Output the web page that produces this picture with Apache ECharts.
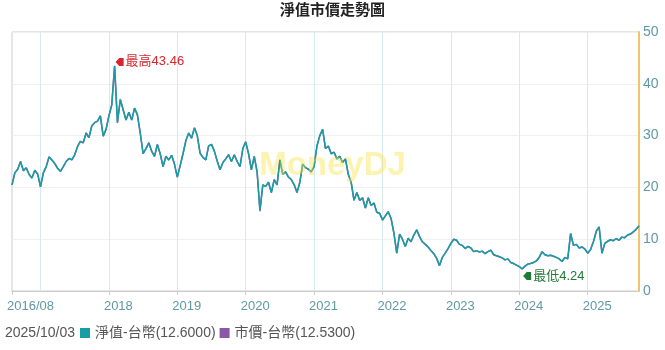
<!DOCTYPE html>
<html><head><meta charset="utf-8">
<script src="https://cdn.jsdelivr.net/npm/echarts@6/dist/echarts.min.js"></script>
<style>html,body{margin:0;padding:0;background:#fff}#c{width:665px;height:350px}</style>
</head><body><div id="c"></div>
<script>
// 淨值 (NAV), semi-monthly readings from 2016/08/01 to 2025/10/03
const navValues = [
20.5,22.8,23.5,25.0,23.2,23.8,22.5,21.8,23.3,22.6,20.1,
22.8,24.0,25.9,25.3,24.6,23.7,23.1,24.0,25.0,25.6,25.3,26.3,27.9,28.9,28.6,30.5,29.6,31.9,32.5,32.8,33.8,29.9,31.2,33.8,
35.9,43.46,32.5,37.0,35.0,33.0,34.5,33.0,35.3,34.0,30.5,26.5,27.5,28.6,27.0,26.0,28.3,26.5,24.0,26.0,25.3,26.2,24.5,22.0,
24.2,26.5,29.0,30.5,29.5,31.5,30.0,26.6,25.8,25.3,28.0,28.3,27.0,25.1,23.4,24.8,25.5,26.3,25.0,26.3,25.0,24.0,27.5,28.8,
26.5,23.4,26.0,23.0,15.6,20.5,20.2,21.0,19.0,21.5,20.5,25.3,22.5,23.0,22.0,21.5,20.5,19.0,21.0,24.5,23.8,23.5,23.0,24.0,
28.0,30.0,31.2,27.5,28.0,26.5,26.8,25.5,26.0,24.8,25.5,22.5,21.0,17.5,19.0,17.5,18.0,16.0,18.0,16.5,17.0,15.2,15.0,13.7,
14.5,15.3,14.0,11.2,7.3,11.0,10.0,8.6,10.2,9.5,10.8,11.8,10.5,9.5,9.0,8.5,7.8,7.2,6.3,4.9,6.5,7.3,8.2,9.2,
10.0,9.8,9.0,8.8,8.2,8.6,8.3,7.6,7.8,7.5,7.7,7.2,7.6,7.9,7.0,6.8,6.6,6.4,6.0,6.2,5.5,5.3,5.0,4.7,
4.24,4.8,5.2,5.3,5.5,5.8,6.5,7.6,7.0,6.8,6.9,6.7,6.5,6.2,5.7,6.5,6.2,11.1,8.8,9.0,8.3,8.5,8.1,7.3,
8.0,9.5,11.5,12.4,7.3,9.2,9.6,9.9,9.7,10.1,9.8,10.4,10.3,10.8,11.0,11.4,11.9,12.6
];
// 市價 (market price) – read as overlapping the NAV line
const priceValues = [
20.5,22.8,23.5,25.0,23.2,23.8,22.5,21.8,23.3,22.6,20.1,
22.8,24.0,25.9,25.3,24.6,23.7,23.1,24.0,25.0,25.6,25.3,26.3,27.9,28.9,28.6,30.5,29.6,31.9,32.5,32.8,33.8,29.9,31.2,33.8,
35.9,43.4,32.5,37.0,35.0,33.0,34.5,33.0,35.3,34.0,30.5,26.5,27.5,28.6,27.0,26.0,28.3,26.5,24.0,26.0,25.3,26.2,24.5,22.0,
24.2,26.5,29.0,30.5,29.5,31.5,30.0,26.6,25.8,25.3,28.0,28.3,27.0,25.1,23.4,24.8,25.5,26.3,25.0,26.3,25.0,24.0,27.5,28.8,
26.5,23.4,26.0,23.0,15.4,20.5,20.2,21.0,19.0,21.5,20.5,25.3,22.5,23.0,22.0,21.5,20.5,19.0,21.0,24.5,23.8,23.5,23.0,24.0,
28.0,30.0,31.2,27.5,28.0,26.5,26.8,25.5,26.0,24.8,25.5,22.5,21.0,17.5,19.0,17.5,18.0,16.0,18.0,16.5,17.0,15.2,15.0,13.7,
14.5,15.3,14.0,11.2,7.3,11.0,10.0,8.6,10.2,9.5,10.8,11.8,10.5,9.5,9.0,8.5,7.8,7.2,6.3,4.9,6.5,7.3,8.2,9.2,
10.0,9.8,9.0,8.8,8.2,8.6,8.3,7.6,7.8,7.5,7.7,7.2,7.6,7.9,7.0,6.8,6.6,6.4,6.0,6.2,5.5,5.3,5.0,4.7,
4.25,4.8,5.2,5.3,5.5,5.8,6.5,7.6,7.0,6.8,6.9,6.7,6.5,6.2,5.7,6.5,6.2,11.1,8.8,9.0,8.3,8.5,8.1,7.3,
8.0,9.5,11.5,12.4,7.3,9.2,9.6,9.9,9.7,10.1,9.8,10.4,10.3,10.8,11.0,11.4,11.9,12.53
];
const tickDates = ['2016/08/01','2018/01/01','2019/01/01','2020/01/01','2021/01/01','2022/01/01','2023/01/01','2024/01/01','2025/01/01'];
const tickLabels = ['2016/08','2018','2019','2020','2021','2022','2023','2024','2025'];
const gridDates = ['2017/01/01','2018/01/01','2019/01/01','2020/01/01','2021/01/01','2022/01/01','2023/01/01','2024/01/01','2025/01/01'];
const yTicks = [0,10,20,30,40,50];
const lastDate = '2025/10/03';
const navLast = '12.6000', priceLast = '12.5300';

const dates = [];
for (let y = 2016; y <= 2025; y++) {
  for (let m = 1; m <= 12; m++) {
    if (y === 2016 && m < 8) continue;
    if (y === 2025 && m > 9) continue;
    const mm = (m < 10 ? '0' : '') + m;
    dates.push(y + '/' + mm + '/01');
    dates.push(y + '/' + mm + '/16');
  }
}
dates.push(lastDate);

const FONT = "'Liberation Sans','Noto Sans CJK TC',sans-serif";
const labelColor = '#5f98a6';
const arrowPath = 'path://M0,5L4.5,0L10,0L10,10L4.5,10Z';

const chart = echarts.init(document.getElementById('c'), null, {renderer: 'canvas'});
chart.setOption({
  animation: false,
  textStyle: {fontFamily: FONT},
  title: {
    text: '淨值市價走勢圖', left: 'center', top: -2,
    textStyle: {fontSize: 15, fontWeight: 'bold', color: '#222', fontFamily: FONT}
  },
  grid: {left: 12, right: 26, top: 32, bottom: 59, show: true, borderColor: '#cccccc', borderWidth: 1,
         containLabel: false, outerBoundsMode: 'none'},
  legend: {
    left: 80, top: 326, padding: 0, itemWidth: 10, itemHeight: 10, itemGap: 4, icon: 'rect',
    data: ['淨值-台幣', '市價-台幣'],
    textStyle: {fontSize: 14, color: '#555', fontFamily: FONT},
    formatter: function (n) { return n + '(' + (n === '淨值-台幣' ? navLast : priceLast) + ')'; }
  },
  graphic: [
    {type: 'text', left: 5, top: 326, style: {text: lastDate, font: "14px " + FONT, fill: '#555'}},
    {type: 'text', left: 'center', top: 149, z: 100, silent: true,
     style: {text: 'MoneyDJ', font: "bold 33px " + FONT, fill: 'rgba(250,225,60,0.4)'}}
  ],
  xAxis: {
    type: 'category', data: dates, boundaryGap: false,
    axisLine: {lineStyle: {color: '#cccccc'}},
    axisTick: {show: true, length: 4, lineStyle: {color: '#cccccc'},
      interval: function (i, v) { return tickDates.indexOf(v) >= 0; }},
    splitLine: {show: true, lineStyle: {color: '#d9e9f0'},
      interval: function (i, v) { return gridDates.indexOf(v) >= 0; }},
    axisLabel: {
      interval: function (i, v) { return tickDates.indexOf(v) >= 0; },
      formatter: function (v) { const k = tickDates.indexOf(v); return tickLabels[k]; },
      align: 'left', padding: [0, 0, 0, -5], margin: 9,
      color: labelColor, fontSize: 13, fontFamily: FONT
    }
  },
  yAxis: {
    type: 'value', position: 'right', min: yTicks[0], max: yTicks[yTicks.length - 1], interval: 10,
    axisLine: {show: true, lineStyle: {color: '#f2c46a', width: 2}},
    axisTick: {show: false},
    splitLine: {lineStyle: {color: '#f0f0f0'}},
    axisLabel: {color: labelColor, fontSize: 14, margin: 4, fontFamily: FONT}
  },
  series: [
    {name: '市價-台幣', type: 'line', data: priceValues, showSymbol: false, symbol: 'none',
     itemStyle: {color: '#8b58a6'}, lineStyle: {color: '#8b58a6', width: 1.5}, z: 2},
    {name: '淨值-台幣', type: 'line', data: navValues, showSymbol: false, symbol: 'none',
     itemStyle: {color: '#179ea3'}, lineStyle: {color: '#179ea3', width: 1.5}, z: 3,
     markPoint: {
       symbol: arrowPath, symbolSize: [8, 8],
       data: [
         {type: 'max', name: '最高', symbolOffset: [5, -4],
          itemStyle: {color: '#d7262e'},
          label: {show: true, position: 'right', distance: 2, formatter: '最高{c}', color: '#d7262e', fontSize: 13, fontFamily: FONT}},
         {type: 'min', name: '最低', symbolOffset: [5, 7],
          itemStyle: {color: '#1f7a35'},
          label: {show: true, position: 'right', distance: 2, formatter: '最低{c}', color: '#1f7a35', fontSize: 13, fontFamily: FONT}}
       ]
     }}
  ]
});
</script></body></html>
